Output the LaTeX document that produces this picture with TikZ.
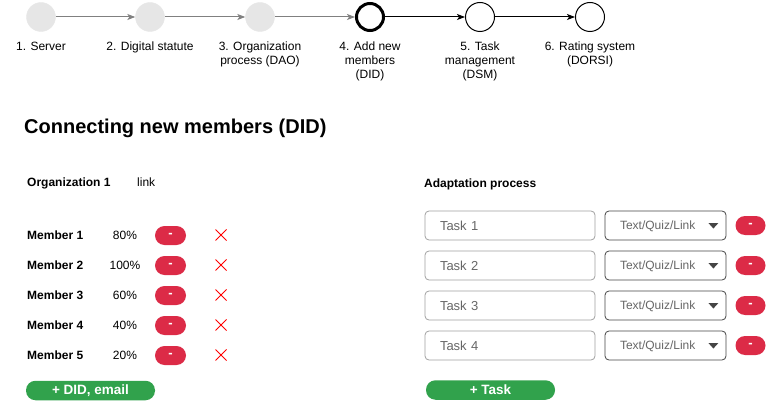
\documentclass[tikz,border=0pt]{standalone}
\usepackage{fontspec}
\setmainfont{Liberation Sans}
\usetikzlibrary{arrows.meta,shapes.misc,calc}
\definecolor{stepgray}{HTML}{E6E6E6}
\definecolor{arrgray}{HTML}{808080}
\definecolor{btnred}{HTML}{DC2B47}
\definecolor{btngreen}{HTML}{31A24C}
\definecolor{boxgray}{HTML}{A0A0A0}
\definecolor{ddborder}{HTML}{444444}
\definecolor{txtgray}{HTML}{666666}
\definecolor{xred}{HTML}{FF0000}
\tikzset{
  donestep/.style={circle,fill=stepgray,draw=stepgray,minimum size=29pt,inner sep=0},
  curstep/.style={circle,fill=white,draw=black,line width=3pt,minimum size=27pt,inner sep=0},
  nextstep/.style={circle,fill=white,draw=black,line width=1pt,minimum size=29pt,inner sep=0},
  steplbl/.style={font=\fontsize{12}{14}\selectfont,align=center,anchor=north,inner sep=0},
  grayarrow/.style={draw=arrgray,line width=1pt,-{Stealth[length=8pt,width=6pt,inset=2pt]}},
  blackarrow/.style={draw=black,line width=1pt,-{Stealth[length=8pt,width=6pt,inset=2pt]}},
  boldlbl/.style={font=\bfseries\fontsize{12}{14}\selectfont,anchor=base west,inner sep=0},
  plainlbl/.style={font=\fontsize{12}{14}\selectfont,anchor=base,inner sep=0},
  redpill/.style={fill=btnred,rounded corners=9.5pt,minimum width=31pt,minimum height=19pt,inner sep=0,
    text=white,font=\bfseries\fontsize{13}{14}\selectfont},
  greenbtn/.style={fill=btngreen,rounded corners=9.5pt,minimum width=129pt,minimum height=19.5pt,inner sep=0,
    text=white,font=\bfseries\fontsize{13.5}{15}\selectfont},
  xmark/.style={cross out,draw=xred,line width=1pt,minimum size=10pt,inner sep=0},
  taskbox/.style={draw=boxgray,line width=0.8pt,rounded corners=4pt,minimum height=29pt,text width=140pt,
    inner xsep=15pt,align=left,text=txtgray,font=\fontsize{13}{15}\selectfont,text height=10pt,text depth=0pt},
  ddbox/.style={draw=ddborder,line width=0.8pt,rounded corners=4pt,minimum height=29pt,text width=91pt,
    inner xsep=15pt,align=left,text=txtgray,font=\fontsize{12}{14}\selectfont,text height=8.6pt,text depth=0pt},
}
\begin{document}
\begin{tikzpicture}[x=1pt,y=-1pt]
\useasboundingbox (0,0) rectangle (766,401);
% steps
\node[donestep] (s1) at (41,17) {};
\node[donestep] (s2) at (150,17) {};
\node[donestep] (s3) at (260,17) {};
\node[curstep] (s4) at (370,17) {};
\node[nextstep] (s5) at (480,17) {};
\node[nextstep] (s6) at (590,17) {};
\draw[grayarrow] (s1) -- (s2);
\draw[grayarrow] (s2) -- (s3);
\draw[grayarrow] (s3) -- (s4);
\draw[blackarrow] (s4) -- (s5);
\draw[blackarrow] (s5) -- (s6);
\node[steplbl] (l1) at (41,41.5) {1. Server};
\node[steplbl] (l2) at (150,41.5) {2. Digital statute};
\node[steplbl] (l3) at (260,41.5) {3. Organization\\process (DAO)};
\node[steplbl] (l4) at (370,41.5) {4. Add new\\members\\(DID)};
\node[steplbl] (l5) at (480,41.5) {5. Task\\management\\(DSM)};
\node[steplbl] (l6) at (590,41.5) {6. Rating system\\(DORSI)};
% title
\node[font=\bfseries\fontsize{20}{24}\selectfont,anchor=base west,inner sep=0] (title) at (24,134) {Connecting new members (DID)};
% left panel
\node[boldlbl] (org) at (27,186) {Organization 1};
\node[font=\fontsize{12}{14}\selectfont,anchor=base west,inner sep=0] (link) at (137,186) {link};
\foreach \i/\p in {1/80,2/100,3/60,4/40,5/20}{
  \pgfmathsetmacro{\yy}{235.5+30*(\i-1)}
  \node[boldlbl] (m\i) at (27,\yy+4.3) {Member \i};
  \node[plainlbl] (p\i) at (125,\yy+4.3) {\p\%};
  \node[redpill] (r\i) at (170.5,\yy) {-};
  \node[xmark] (x\i) at (221,\yy-0.5) {};
}
\node[greenbtn] (adddid) at (90.5,390.5) {+ DID, email};
% right panel
\node[boldlbl] (adapt) at (424,187) {Adaptation process};
\foreach \i in {1,2,3,4}{
  \pgfmathsetmacro{\yy}{225.5+40*(\i-1)}
  \node[taskbox] (t\i) at (510,\yy) {Task \i};
  \node[ddbox] (d\i) at (665.5,\yy) {Text/Quiz/Link};
  \fill[ddborder] ($(d\i.east)+(-18,-2.5)$) -- ($(d\i.east)+(-8,-2.5)$) -- ($(d\i.east)+(-13,3)$) -- cycle;
  \node[redpill,minimum width=30pt] (q\i) at (750.5,\yy) {-};
}
\node[greenbtn] (addtask) at (490.5,390) {+ Task};
\end{tikzpicture}
\end{document}
